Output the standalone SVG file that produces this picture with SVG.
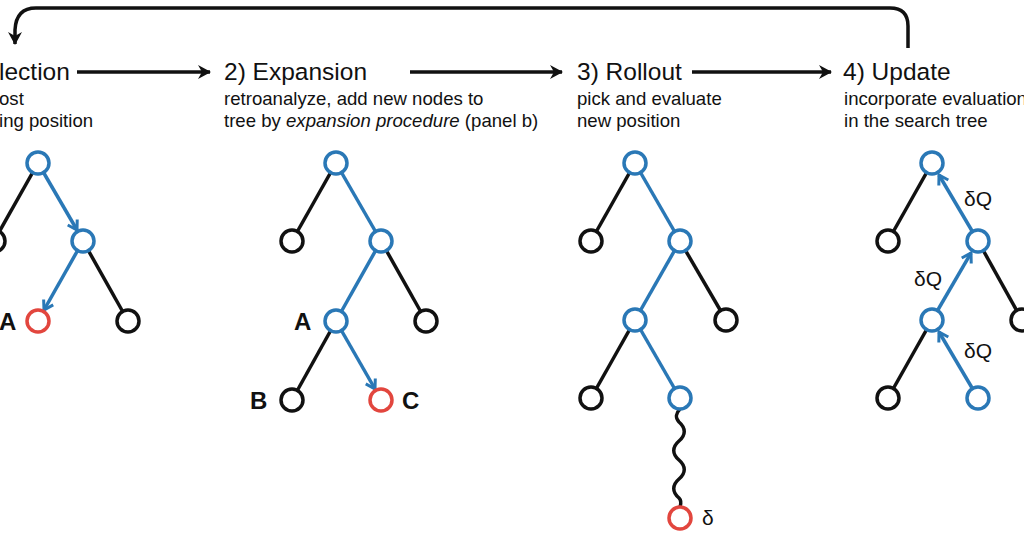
<svg xmlns="http://www.w3.org/2000/svg" width="1024" height="536" viewBox="0 0 1024 536">
<style>
  .hdr{font-family:"Liberation Sans",Arial,sans-serif;font-size:24.5px;fill:#111}
  .sub{font-family:"Liberation Sans",Arial,sans-serif;font-size:18.6px;fill:#111}
  .lbl{font-family:"Liberation Sans",Arial,sans-serif;font-size:24px;font-weight:bold;fill:#111}
  .dl{font-family:"Liberation Sans",Arial,sans-serif;font-size:21px;fill:#111}
  .flow{stroke:#111;stroke-width:3.5;fill:none}
  .eb{stroke:#111;stroke-width:3.5;fill:none}
  .eu{stroke:#2a78b6;stroke-width:3.5;fill:none}
  .nb{stroke:#111;stroke-width:3.5;fill:#fff}
  .nu{stroke:#2a78b6;stroke-width:3.5;fill:#fff}
  .nr{stroke:#e2463e;stroke-width:3.5;fill:#fff}
</style>
<defs>
  <marker id="ah" markerUnits="userSpaceOnUse" markerWidth="16" markerHeight="16" viewBox="-14 -8 16 16" refX="0" refY="0" orient="auto">
    <path d="M-12,-7 L1,0 L-12,7 L-8,0 Z" fill="#111"/>
  </marker>
  <marker id="bh" markerUnits="userSpaceOnUse" markerWidth="16" markerHeight="16" viewBox="-12 -8 14 16" refX="0" refY="0" orient="auto">
    <path d="M-9,-5.5 L0,0 L-9,5.5" fill="none" stroke="#2a78b6" stroke-width="3"/>
  </marker>
</defs>

<g id="connectors">
  <line class="flow" x1="77" y1="72" x2="210" y2="72" marker-end="url(#ah)"/>
  <line class="flow" x1="410" y1="72" x2="562" y2="72" marker-end="url(#ah)"/>
  <line class="flow" x1="692" y1="72" x2="831" y2="72" marker-end="url(#ah)"/>
  <path class="flow" d="M908,48 L908,26 Q908,8 890,8 L36,8 Q16,8 15,30 L15,44" marker-end="url(#ah)"/>

  <line class="eb" x1="38" y1="163" x2="-6" y2="241"/>
  <line class="eb" x1="83" y1="241" x2="128" y2="321"/>
  <line class="eu" x1="38" y1="163" x2="77" y2="230" marker-end="url(#bh)"/>
  <line class="eu" x1="83" y1="241" x2="44" y2="310" marker-end="url(#bh)"/>

  <line class="eb" x1="336" y1="163" x2="292" y2="241"/>
  <line class="eu" x1="336" y1="163" x2="381" y2="241"/>
  <line class="eu" x1="381" y1="241" x2="336" y2="321"/>
  <line class="eb" x1="381" y1="241" x2="426" y2="321"/>
  <line class="eb" x1="336" y1="321" x2="292" y2="400"/>
  <line class="eu" x1="336" y1="321" x2="375" y2="389" marker-end="url(#bh)"/>

  <line class="eb" x1="635" y1="163" x2="591" y2="241"/>
  <line class="eu" x1="635" y1="163" x2="680" y2="241"/>
  <line class="eu" x1="680" y1="241" x2="635" y2="320"/>
  <line class="eb" x1="680" y1="241" x2="726" y2="320"/>
  <line class="eb" x1="635" y1="320" x2="591" y2="398"/>
  <line class="eu" x1="635" y1="320" x2="680" y2="398"/>
  <path class="eb" d="M680,409 C676,413 675,418 679,422 C686,428 686,435 679,441 C672,447 672,454 679,460 C686,466 686,473 679,479 C672,485 672,492 679,498 C682,501 681,504 680,507"/>

  <line class="eb" x1="932" y1="163" x2="888" y2="241"/>
  <line class="eb" x1="978" y1="241" x2="1022" y2="320"/>
  <line class="eb" x1="932" y1="320" x2="888" y2="398"/>
  <line class="eu" x1="978" y1="398" x2="939" y2="332" marker-end="url(#bh)"/>
  <line class="eu" x1="932" y1="320" x2="971" y2="253" marker-end="url(#bh)"/>
  <line class="eu" x1="978" y1="241" x2="939" y2="175" marker-end="url(#bh)"/>
</g>

<g id="step1">
  <text class="hdr" x="-1" y="80">lection</text>
  <text class="sub" x="-1" y="105">ost</text>
  <text class="sub" x="-1" y="127">ing position</text>
</g>
<g id="step2">
  <text class="hdr" x="224" y="80">2) Expansion</text>
  <text class="sub" x="224" y="105">retroanalyze, add new nodes to</text>
  <text class="sub" x="224" y="127">tree by <tspan font-style="italic">expansion procedure</tspan> (panel b)</text>
</g>
<g id="step3">
  <text class="hdr" x="577" y="80">3) Rollout</text>
  <text class="sub" x="577" y="105">pick and evaluate</text>
  <text class="sub" x="577" y="127">new position</text>
</g>
<g id="step4">
  <text class="hdr" x="843" y="80">4) Update</text>
  <text class="sub" x="844" y="105">incorporate evaluation</text>
  <text class="sub" x="844" y="127">in the search tree</text>
</g>

<g id="tree1">
  <circle class="nu" cx="38" cy="163" r="11"/>
  <circle class="nb" cx="-6" cy="241" r="11"/>
  <circle class="nu" cx="83" cy="241" r="11"/>
  <circle class="nr" cx="38" cy="321" r="11"/>
  <circle class="nb" cx="128" cy="321" r="11"/>
  <text class="lbl" x="-1" y="330">A</text>
</g>
<g id="tree2">
  <circle class="nu" cx="336" cy="163" r="11"/>
  <circle class="nb" cx="292" cy="241" r="11"/>
  <circle class="nu" cx="381" cy="241" r="11"/>
  <circle class="nu" cx="336" cy="321" r="11"/>
  <circle class="nb" cx="426" cy="321" r="11"/>
  <circle class="nb" cx="292" cy="400" r="11"/>
  <circle class="nr" cx="381" cy="400" r="11"/>
  <text class="lbl" x="294" y="330">A</text>
  <text class="lbl" x="250" y="409">B</text>
  <text class="lbl" x="402" y="409">C</text>
</g>
<g id="tree3">
  <circle class="nu" cx="635" cy="163" r="11"/>
  <circle class="nb" cx="591" cy="241" r="11"/>
  <circle class="nu" cx="680" cy="241" r="11"/>
  <circle class="nu" cx="635" cy="320" r="11"/>
  <circle class="nb" cx="726" cy="320" r="11"/>
  <circle class="nb" cx="591" cy="398" r="11"/>
  <circle class="nu" cx="680" cy="398" r="11"/>
  <circle class="nr" cx="680" cy="518" r="11"/>
  <text class="dl" x="702" y="525">δ</text>
</g>
<g id="tree4">
  <circle class="nu" cx="932" cy="163" r="11"/>
  <circle class="nb" cx="888" cy="241" r="11"/>
  <circle class="nu" cx="978" cy="241" r="11"/>
  <circle class="nu" cx="932" cy="320" r="11"/>
  <circle class="nb" cx="1022" cy="320" r="11"/>
  <circle class="nb" cx="888" cy="398" r="11"/>
  <circle class="nu" cx="978" cy="398" r="11"/>
  <text class="dl" x="964" y="206">δQ</text>
  <text class="dl" x="914" y="286">δQ</text>
  <text class="dl" x="964" y="358">δQ</text>
</g>
</svg>
